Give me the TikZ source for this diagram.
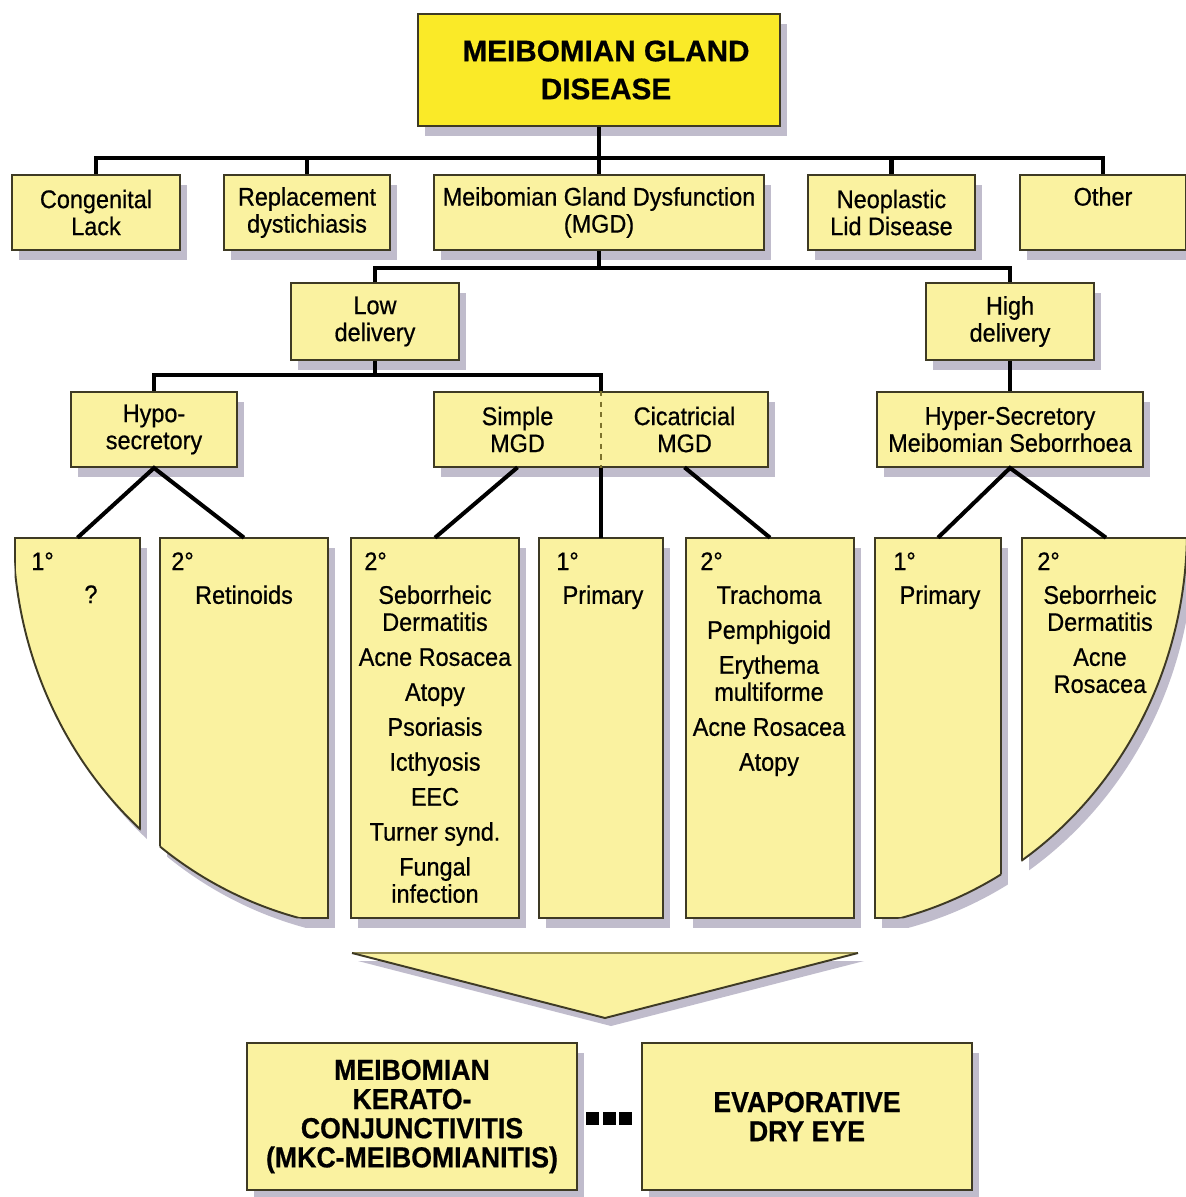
\documentclass[tikz,border=0pt]{standalone}
\usepackage{fontspec}
\setmainfont{Liberation Sans}[FakeStretch=0.92, FakeBold=0.6]
\newfontfamily\titlefont{Liberation Sans}[FakeBold=0.6]
\usetikzlibrary{shadows}
\definecolor{boxfill}{RGB}{250,242,160}
\definecolor{titlefill}{RGB}{250,234,40}
\definecolor{edgec}{RGB}{62,58,36}
\definecolor{shadowc}{RGB}{192,188,204}
\definecolor{dividc}{RGB}{125,115,45}
\begin{document}
\begin{tikzpicture}[x=0.02cm, y=-0.02cm,
  box/.style={draw=edgec, line width=1.1pt, fill=boxfill, align=center, inner sep=0pt,
    font=\fontsize{14.5}{15.4}\selectfont,
    drop shadow={shadow xshift=0.14cm, shadow yshift=-0.2cm, fill=shadowc, opacity=1}},
  plainbox/.style={draw=none, fill=none, align=center, inner sep=0pt,
    font=\fontsize{14.5}{15.4}\selectfont},
  colrect/.style={draw=none, fill=none, inner sep=0pt, minimum height=7.6cm},
  txt/.style={align=center, inner sep=0pt, font=\fontsize{14.5}{15.4}\selectfont},
  conn/.style={line width=2.3pt, black},
  edge/.style={draw=edgec, line width=1.1pt},
  colcurve/.style={insert path={(13,530) .. controls (13,720) and (140,890) .. (330,925)
     .. controls (450,947) and (750,947) .. (870,925)
     .. controls (1060,890) and (1187,720) .. (1187,530)}},
  colregion/.style={colcurve, insert path={-- (1187,300) -- (13,300) -- cycle}}
]
\useasboundingbox (0,0) rectangle (1186,1197);
\fill[white] (0,0) rectangle (1186,1197);

% title
\node[box, fill=titlefill, minimum width=7.24cm, minimum height=2.24cm,
  font={\titlefont\bfseries\fontsize{16.9}{21.6}\selectfont}] (title) at (599,70) {\hspace*{8pt}MEIBOMIAN GLAND\\\hspace*{8pt}DISEASE};

% row 1
\node[box, minimum width=3.36cm, minimum height=1.5cm] (cong) at (96,212.5) {Congenital\\Lack};
\node[box, minimum width=3.32cm, minimum height=1.5cm] (repl) at (307,212.5) {Replacement\\dystichiasis};
\node[box, minimum width=6.6cm, minimum height=1.5cm] (mgd) at (599,212.5) {Meibomian Gland Dysfunction\\(MGD)};
\node[box, minimum width=3.34cm, minimum height=1.5cm] (neo) at (891.5,212.5) {Neoplastic\\Lid Disease};
\node[box, minimum width=3.32cm, minimum height=1.5cm] (other) at (1103,212.5) {Other\\\phantom{Ly}};

% row 2
\node[box, minimum width=3.36cm, minimum height=1.54cm] (low) at (375,321.5) {Low\\delivery};
\node[box, minimum width=3.36cm, minimum height=1.54cm] (high) at (1010,321.5) {High\\delivery};

% row 3
\node[box, minimum width=3.32cm, minimum height=1.5cm] (hypo) at (154,429.5) {Hypo-\\secretory};
\node[box, minimum width=6.68cm, minimum height=1.5cm] (sc) at (601,429.5) {};
\node[plainbox, minimum width=3.34cm, minimum height=1.5cm] (simple) at (517.5,429.5) {Simple\\MGD};
\node[plainbox, minimum width=3.34cm, minimum height=1.5cm] (cicat) at (684.5,429.5) {Cicatricial\\MGD};
\node[box, minimum width=5.32cm, minimum height=1.5cm] (hyper) at (1010,429.5) {Hyper-Secretory\\Meibomian Seborrhoea};
\draw[dividc, line width=1.5pt, dash pattern=on 3pt off 3pt] (sc.north) -- (sc.south);

% columns (anchors)
\node[colrect, minimum width=2.5cm] (c1) at (77.5,728) {};
\node[colrect, minimum width=3.36cm] (c2) at (244,728) {};
\node[colrect, minimum width=3.36cm] (c3) at (435,728) {};
\node[colrect, minimum width=2.48cm] (c4) at (601,728) {};
\node[colrect, minimum width=3.36cm] (c5) at (770,728) {};
\node[colrect, minimum width=2.52cm] (c6) at (938,728) {};
\node[colrect, minimum width=3.36cm] (c7) at (1106,728) {};

% column shadows
\begin{scope}
  \clip[shift={(7,10)}, colregion];
  \foreach \c in {c1,c2,c3,c4,c5,c6,c7}
    \fill[shadowc] ([shift={(7,10)}]\c.north west) rectangle ([shift={(7,10)}]\c.south east);
\end{scope}
% column bodies
\begin{scope}
  \clip[colregion];
  \foreach \c in {c1,c2,c3,c4,c5,c6,c7} {
    \fill[boxfill] (\c.north west) rectangle (\c.south east);
    \draw[edge] (\c.north west) rectangle (\c.south east);
  }
\end{scope}
\begin{scope}
  \clip (c1.north west) rectangle (c1.south east)
        (c2.north west) rectangle (c2.south east)
        (c6.north west) rectangle (c6.south east)
        (c7.north west) rectangle (c7.south east);
  \draw[edge, colcurve];
\end{scope}

% column texts
\node[txt, anchor=north west] (d1) at (31,552) {1°};
\node[txt, anchor=north west] (d2) at (171,552) {2°};
\node[txt, anchor=north west] (d3) at (364,552) {2°};
\node[txt, anchor=north west] (d4) at (556,552) {1°};
\node[txt, anchor=north west] (d5) at (700,552) {2°};
\node[txt, anchor=north west] (d6) at (893,552) {1°};
\node[txt, anchor=north west] (d7) at (1037,552) {2°};

\node[txt, anchor=north] (t1) at (91,585) {?};
\node[txt, anchor=north] (t2) at (244,585) {Retinoids};
\node[txt, anchor=north] (t3) at (435,585) {Seborrheic\\Dermatitis\\[4.5pt]Acne Rosacea\\[4.5pt]Atopy\\[4.5pt]Psoriasis\\[4.5pt]Icthyosis\\[4.5pt]EEC\\[4.5pt]Turner synd.\\[4.5pt]Fungal\\infection};
\node[txt, anchor=north] (t4) at (603,585) {Primary};
\node[txt, anchor=north] (t5) at (769,585) {Trachoma\\[4.5pt]Pemphigoid\\[4.5pt]Erythema\\multiforme\\[4.5pt]Acne Rosacea\\[4.5pt]Atopy};
\node[txt, anchor=north] (t6) at (940,585) {Primary};
\node[txt, anchor=north] (t7) at (1100,585) {Seborrheic\\Dermatitis\\[4.5pt]Acne\\Rosacea};

% chevron
\fill[shadowc] (358,961) -- (864,961) -- (611,1026) -- cycle;
\fill[boxfill] (352,953) -- (858,953) -- (605,1018) -- cycle;
\draw[dividc!80, line width=0.9pt] (352,953) -- (858,953);
\draw[edge] (352,953) -- (605,1018) -- (858,953);

% bottom boxes
\node[box, minimum width=6.6cm, minimum height=2.94cm,
  font=\bfseries\fontsize{16.5}{16.6}\selectfont] (mkc) at (412,1116.5) {MEIBOMIAN\\KERATO-\\CONJUNCTIVITIS\\(MKC-MEIBOMIANITIS)};
\node[box, minimum width=6.6cm, minimum height=2.94cm,
  font=\bfseries\fontsize{16.5}{16.6}\selectfont] (evap) at (807,1116.5) {EVAPORATIVE\\DRY EYE};
\fill (586,1112) rectangle (599,1125);
\fill (602.5,1112) rectangle (615.5,1125);
\fill (619,1112) rectangle (632,1125);

% connectors
\coordinate (j1) at (599,158);
\draw[conn] (title.south) -- (j1) -- (mgd.north);
\draw[conn] (cong.north) |- (j1) -| (other.north);
\draw[conn] (repl.north) -- (repl.north |- j1);
\draw[conn] (neo.north) -- (neo.north |- j1);
\coordinate (j2) at (599,268);
\draw[conn] (mgd.south) -- (j2);
\draw[conn] (low.north) |- (j2) -| (high.north);
\draw[conn] (high.south) -- (hyper.north);
\coordinate (j3) at (375,375);
\draw[conn] (low.south) -- (j3);
\draw[conn] (hypo.north) |- (j3) -| (sc.north);
\draw[conn] (sc.south) -- (c4.north);
\draw[conn] (c1.north) -- (hypo.south) -- (c2.north);
\draw[conn] (simple.south) -- (c3.north);
\draw[conn] (cicat.south) -- (c5.north);
\draw[conn] (c6.north) -- (hyper.south) -- (c7.north);
\end{tikzpicture}
\end{document}
